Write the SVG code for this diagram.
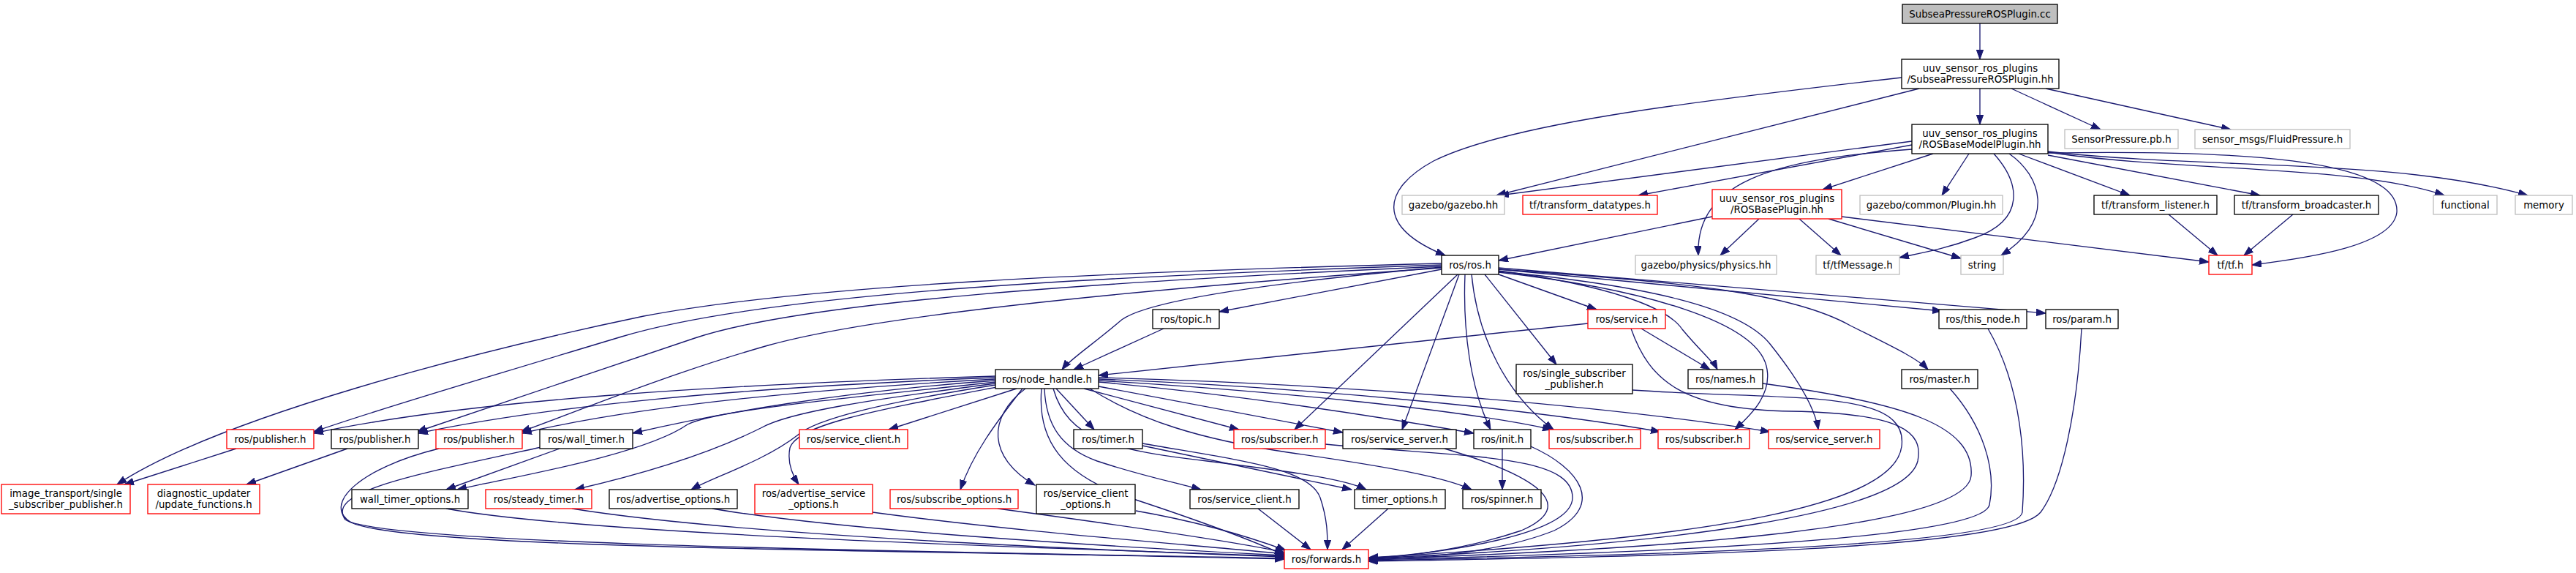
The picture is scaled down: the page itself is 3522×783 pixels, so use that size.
<svg xmlns="http://www.w3.org/2000/svg" width="3522" height="783" viewBox="0 0 3522 783">
<style>
rect{stroke-width:1.33;fill:#fff}
rect.k{stroke:#000}
rect.g{stroke:#bfbfbf}
rect.r{stroke:#f00}
text{font-family:"DejaVu Sans","Liberation Sans",sans-serif;font-size:13.33px;text-anchor:middle;fill:#000}
#edges path{fill:none;stroke:#191970;stroke-width:1.33;marker-end:url(#ah)}
</style>
<defs>
<marker id="ah" markerUnits="userSpaceOnUse" markerWidth="14" markerHeight="10" refX="13" refY="4.7" orient="auto">
<path d="M0,0 L13,4.7 L0,9.4 z" fill="#191970" stroke="#191970" stroke-width="1"/>
</marker>
</defs>
<rect x="0" y="0" width="3522" height="783" style="fill:#fff;stroke:none"/>
<g id="edges">
<path d="M2707,32 L2707,81"/>
<path d="M2707,121 L2707,170"/>
<path d="M2750,121 L2872,177"/>
<path d="M2797,121 L3050,177"/>
<path d="M2624,121 L2046,267"/>
<path d="M2600,106 C2300,140 2060,170 1960,220 C1890,258 1880,310 1976,349"/>
<path d="M2614,193 L2050,267"/>
<path d="M2614,198 L2240,267"/>
<path d="M2614,204 C2420,218 2318,250 2322,349"/>
<path d="M2643,210 L2492,259"/>
<path d="M2692,210 L2655,267"/>
<path d="M2726,210 C2762,250 2770,300 2700,325 C2660,340 2630,345 2597,352"/>
<path d="M2747,210 C2790,240 2812,300 2736,349"/>
<path d="M2760,210 L2912,267"/>
<path d="M2800,212 L3090,267"/>
<path d="M2800,208 C2980,235 3220,225 3342,267"/>
<path d="M2800,207 C3020,232 3270,215 3456,267"/>
<path d="M2800,209 C3050,205 3282,215 3277,290 C3272,335 3160,352 3079,362"/>
<path d="M2341,296 L2049,356"/>
<path d="M2405,299 L2352,349"/>
<path d="M2460,299 L2517,349"/>
<path d="M2500,299 L2681,353"/>
<path d="M2518,296 L3020,358"/>
<path d="M2965,293 L3032,349"/>
<path d="M3135,293 L3068,349"/>
<path d="M1971,368 L1667,426"/>
<path d="M1971,365 C1750,385 1560,410 1530,440 C1495,470 1462,492 1452,505"/>
<path d="M1971,360 C1500,372 1100,390 880,432 C650,480 300,570 160,662"/>
<path d="M1971,362 C1500,378 1050,400 850,460 C650,520 500,565 429,590"/>
<path d="M1971,364 C1500,385 1100,412 950,462 C800,512 650,562 570,590"/>
<path d="M1971,366 C1560,395 1200,430 1050,472 C910,512 790,562 712,590"/>
<path d="M1995,375 L1917,587"/>
<path d="M2003,375 C2000,450 2010,530 2038,587"/>
<path d="M2012,375 C2020,460 2060,540 2124,587"/>
<path d="M1993,375 L1770,587"/>
<path d="M2049,375 L2183,423"/>
<path d="M2049,368 L2655,425"/>
<path d="M2049,366 L2797,428"/>
<path d="M2049,370 C2200,390 2280,420 2300,450 C2325,480 2343,495 2348,505"/>
<path d="M2049,368 C2300,385 2450,400 2530,445 C2590,475 2622,490 2636,505"/>
<path d="M2030,375 L2128,498"/>
<path d="M2049,372 C2250,395 2400,440 2415,500 C2425,540 2390,570 2372,587"/>
<path d="M2049,371 C2250,390 2380,420 2420,470 C2460,520 2482,560 2486,587"/>
<path d="M1591,449 L1468,505"/>
<path d="M2171,442 L1502,513"/>
<path d="M2244,449 L2338,505"/>
<path d="M2230,449 C2255,520 2300,560 2450,562 C2600,565 2630,590 2622,630 C2605,700 2300,745 1871,763"/>
<path d="M2232,533 C2450,548 2610,530 2600,610 C2590,690 2350,735 1871,762"/>
<path d="M2410,524 C2600,550 2700,580 2695,650 C2690,720 2300,750 1871,764"/>
<path d="M2666,531 C2710,580 2730,640 2720,690 C2710,735 2300,755 1871,765"/>
<path d="M2718,449 C2765,530 2770,630 2765,700 C2760,745 2300,758 1871,766"/>
<path d="M2846,449 C2840,560 2820,660 2790,700 C2750,750 2300,760 1871,767"/>
<path d="M1361,514 C1000,525 650,545 429,592"/>
<path d="M1361,516 C1000,530 750,555 572,592"/>
<path d="M1361,518 C1050,535 850,560 714,592"/>
<path d="M1361,520 C1150,535 980,565 865,592"/>
<path d="M1390,531 L1215,587"/>
<path d="M1444,531 L1496,587"/>
<path d="M1482,531 L1694,587"/>
<path d="M1502,528 L1836,591"/>
<path d="M1502,522 C1700,540 1900,572 2015,592"/>
<path d="M1502,520 C1750,535 2000,560 2122,587"/>
<path d="M1502,518 C1800,530 2100,560 2270,590"/>
<path d="M1502,516 C1850,525 2200,555 2420,590"/>
<path d="M1361,522 C1150,545 980,560 940,580 C880,622 700,652 625,669"/>
<path d="M1361,524 C1200,545 1080,562 1040,585 C960,625 860,652 786,669"/>
<path d="M1361,526 C1210,550 1115,572 1090,595 C1045,630 975,652 945,669"/>
<path d="M1363,529 C1200,560 1090,580 1080,612 C1076,632 1084,650 1092,662"/>
<path d="M1398,531 C1360,580 1330,620 1313,669"/>
<path d="M1402,531 C1350,570 1350,625 1415,663"/>
<path d="M1428,531 C1430,580 1450,612 1500,630 C1560,650 1610,660 1642,669"/>
<path d="M1424,531 C1418,600 1450,650 1550,682 C1650,715 1720,742 1757,759"/>
<path d="M1440,531 C1460,600 1520,615 1650,630 C1770,645 1840,655 1868,669"/>
<path d="M1490,531 C1560,575 1640,600 1760,618 C1900,638 1975,652 2012,669"/>
<path d="M323,613 L170,662"/>
<path d="M475,613 L337,662"/>
<path d="M600,613 C490,640 440,690 480,714 C560,752 1300,752 1756,764"/>
<path d="M740,611 C560,650 445,672 472,710 C520,745 1300,754 1756,763"/>
<path d="M765,613 L610,669"/>
<path d="M610,695 C800,730 1400,748 1756,760"/>
<path d="M782,695 C1000,730 1450,750 1756,761"/>
<path d="M974,695 C1150,725 1500,746 1756,759"/>
<path d="M1193,700 C1400,728 1650,746 1756,757"/>
<path d="M1364,695 C1550,720 1700,742 1756,755"/>
<path d="M1553,698 C1650,715 1720,738 1758,752"/>
<path d="M1720,695 L1792,751"/>
<path d="M1898,695 L1835,751"/>
<path d="M1562,609 L1848,669"/>
<path d="M1562,606 C1700,630 1790,640 1805,680 C1815,710 1815,730 1815,751"/>
<path d="M1975,613 C2100,650 2160,690 2080,725 C2000,752 1920,760 1871,764"/>
<path d="M2093,610 C2160,640 2195,690 2125,725 C2050,755 1950,762 1871,765"/>
<path d="M2054,613 L2054,669"/>
<path d="M1812,607 C2000,625 2150,620 2150,680 C2150,730 1980,755 1871,763"/>
</g>
<g id="n_cc"><rect x="2601" y="6" width="212" height="26" class="k" style="fill:#bfbfbf"/><text x="2707" y="23.5">SubseaPressureROSPlugin.cc</text></g>
<g id="n_hh"><rect x="2600" y="81" width="215" height="40" class="k"/><text x="2707.5" y="97.7">uuv_sensor_ros_plugins</text><text x="2707.5" y="112.7">/SubseaPressureROSPlugin.hh</text></g>
<g id="n_rbm"><rect x="2614" y="170" width="186" height="40" class="k"/><text x="2707" y="186.7">uuv_sensor_ros_plugins</text><text x="2707" y="201.7">/ROSBaseModelPlugin.hh</text></g>
<g id="n_spb"><rect x="2823" y="177" width="155" height="26" class="g"/><text x="2900.5" y="194.5">SensorPressure.pb.h</text></g>
<g id="n_fp"><rect x="3001" y="177" width="212" height="26" class="g"/><text x="3107" y="194.5">sensor_msgs/FluidPressure.h</text></g>
<g id="n_gz"><rect x="1917" y="267" width="140" height="26" class="g"/><text x="1987" y="284.5">gazebo/gazebo.hh</text></g>
<g id="n_tfd"><rect x="2082" y="267" width="184" height="26" class="r"/><text x="2174" y="284.5">tf/transform_datatypes.h</text></g>
<g id="n_rbp"><rect x="2341" y="259" width="177" height="40" class="r"/><text x="2429.5" y="275.7">uuv_sensor_ros_plugins</text><text x="2429.5" y="290.7">/ROSBasePlugin.hh</text></g>
<g id="n_plg"><rect x="2543" y="267" width="195" height="26" class="g"/><text x="2640.5" y="284.5">gazebo/common/Plugin.hh</text></g>
<g id="n_tfl"><rect x="2863" y="267" width="168" height="26" class="k"/><text x="2947" y="284.5">tf/transform_listener.h</text></g>
<g id="n_tfb"><rect x="3055" y="267" width="197" height="26" class="k"/><text x="3153.5" y="284.5">tf/transform_broadcaster.h</text></g>
<g id="n_fn"><rect x="3327" y="267" width="87" height="26" class="g"/><text x="3370.5" y="284.5">functional</text></g>
<g id="n_mem"><rect x="3439" y="267" width="78" height="26" class="g"/><text x="3478" y="284.5">memory</text></g>
<g id="n_ros"><rect x="1971" y="349" width="78" height="26" class="k"/><text x="2010" y="366.5">ros/ros.h</text></g>
<g id="n_phy"><rect x="2236" y="349" width="193" height="26" class="g"/><text x="2332.5" y="366.5">gazebo/physics/physics.hh</text></g>
<g id="n_tfm"><rect x="2483" y="349" width="114" height="26" class="g"/><text x="2540" y="366.5">tf/tfMessage.h</text></g>
<g id="n_str"><rect x="2681" y="349" width="58" height="26" class="g"/><text x="2710" y="366.5">string</text></g>
<g id="n_tf"><rect x="3020" y="349" width="59" height="26" class="r"/><text x="3049.5" y="366.5">tf/tf.h</text></g>
<g id="n_topic"><rect x="1576" y="423" width="91" height="26" class="k"/><text x="1621.5" y="440.5">ros/topic.h</text></g>
<g id="n_svc"><rect x="2171" y="423" width="106" height="26" class="r"/><text x="2224" y="440.5">ros/service.h</text></g>
<g id="n_thn"><rect x="2651" y="423" width="120" height="26" class="k"/><text x="2711" y="440.5">ros/this_node.h</text></g>
<g id="n_prm"><rect x="2797" y="423" width="99" height="26" class="k"/><text x="2846.5" y="440.5">ros/param.h</text></g>
<g id="n_nh"><rect x="1361" y="505" width="141" height="26" class="k"/><text x="1431.5" y="522.5">ros/node_handle.h</text></g>
<g id="n_ssp"><rect x="2073" y="498" width="159" height="40" class="k"/><text x="2152.5" y="514.7">ros/single_subscriber</text><text x="2152.5" y="529.7">_publisher.h</text></g>
<g id="n_nam"><rect x="2308" y="505" width="102" height="26" class="k"/><text x="2359" y="522.5">ros/names.h</text></g>
<g id="n_mst"><rect x="2600" y="505" width="104" height="26" class="k"/><text x="2652" y="522.5">ros/master.h</text></g>
<g id="n_pub1"><rect x="310" y="587" width="119" height="26" class="r"/><text x="369.5" y="604.5">ros/publisher.h</text></g>
<g id="n_pub2"><rect x="453" y="587" width="119" height="26" class="k"/><text x="512.5" y="604.5">ros/publisher.h</text></g>
<g id="n_pub3"><rect x="596" y="587" width="118" height="26" class="r"/><text x="655" y="604.5">ros/publisher.h</text></g>
<g id="n_wt"><rect x="738" y="587" width="127" height="26" class="k"/><text x="801.5" y="604.5">ros/wall_timer.h</text></g>
<g id="n_scr"><rect x="1093" y="587" width="148" height="26" class="r"/><text x="1167" y="604.5">ros/service_client.h</text></g>
<g id="n_tmr"><rect x="1468" y="587" width="94" height="26" class="k"/><text x="1515" y="604.5">ros/timer.h</text></g>
<g id="n_subA"><rect x="1687" y="587" width="125" height="26" class="r"/><text x="1749.5" y="604.5">ros/subscriber.h</text></g>
<g id="n_ssv"><rect x="1836" y="587" width="155" height="26" class="k"/><text x="1913.5" y="604.5">ros/service_server.h</text></g>
<g id="n_ini"><rect x="2015" y="587" width="78" height="26" class="k"/><text x="2054" y="604.5">ros/init.h</text></g>
<g id="n_subB"><rect x="2118" y="587" width="125" height="26" class="r"/><text x="2180.5" y="604.5">ros/subscriber.h</text></g>
<g id="n_subC"><rect x="2267" y="587" width="125" height="26" class="r"/><text x="2329.5" y="604.5">ros/subscriber.h</text></g>
<g id="n_ssr"><rect x="2418" y="587" width="152" height="26" class="r"/><text x="2494" y="604.5">ros/service_server.h</text></g>
<g id="n_itp"><rect x="2" y="662" width="176" height="40" class="r"/><text x="90" y="678.7">image_transport/single</text><text x="90" y="693.7">_subscriber_publisher.h</text></g>
<g id="n_dgu"><rect x="202" y="662" width="153" height="40" class="r"/><text x="278.5" y="678.7">diagnostic_updater</text><text x="278.5" y="693.7">/update_functions.h</text></g>
<g id="n_wto"><rect x="481" y="669" width="159" height="26" class="k"/><text x="560.5" y="686.5">wall_timer_options.h</text></g>
<g id="n_stt"><rect x="664" y="669" width="145" height="26" class="r"/><text x="736.5" y="686.5">ros/steady_timer.h</text></g>
<g id="n_ado"><rect x="833" y="669" width="175" height="26" class="k"/><text x="920.5" y="686.5">ros/advertise_options.h</text></g>
<g id="n_aso"><rect x="1032" y="662" width="161" height="40" class="r"/><text x="1112.5" y="678.7">ros/advertise_service</text><text x="1112.5" y="693.7">_options.h</text></g>
<g id="n_sbo"><rect x="1217" y="669" width="175" height="26" class="r"/><text x="1304.5" y="686.5">ros/subscribe_options.h</text></g>
<g id="n_sco"><rect x="1417" y="662" width="135" height="40" class="k"/><text x="1484.5" y="678.7">ros/service_client</text><text x="1484.5" y="693.7">_options.h</text></g>
<g id="n_sc"><rect x="1627" y="669" width="149" height="26" class="k"/><text x="1701.5" y="686.5">ros/service_client.h</text></g>
<g id="n_tmo"><rect x="1852" y="669" width="124" height="26" class="k"/><text x="1914" y="686.5">timer_options.h</text></g>
<g id="n_spn"><rect x="2000" y="669" width="107" height="26" class="k"/><text x="2053.5" y="686.5">ros/spinner.h</text></g>
<g id="n_fwd"><rect x="1756" y="751" width="115" height="26" class="r"/><text x="1813.5" y="768.5">ros/forwards.h</text></g>
</svg>
